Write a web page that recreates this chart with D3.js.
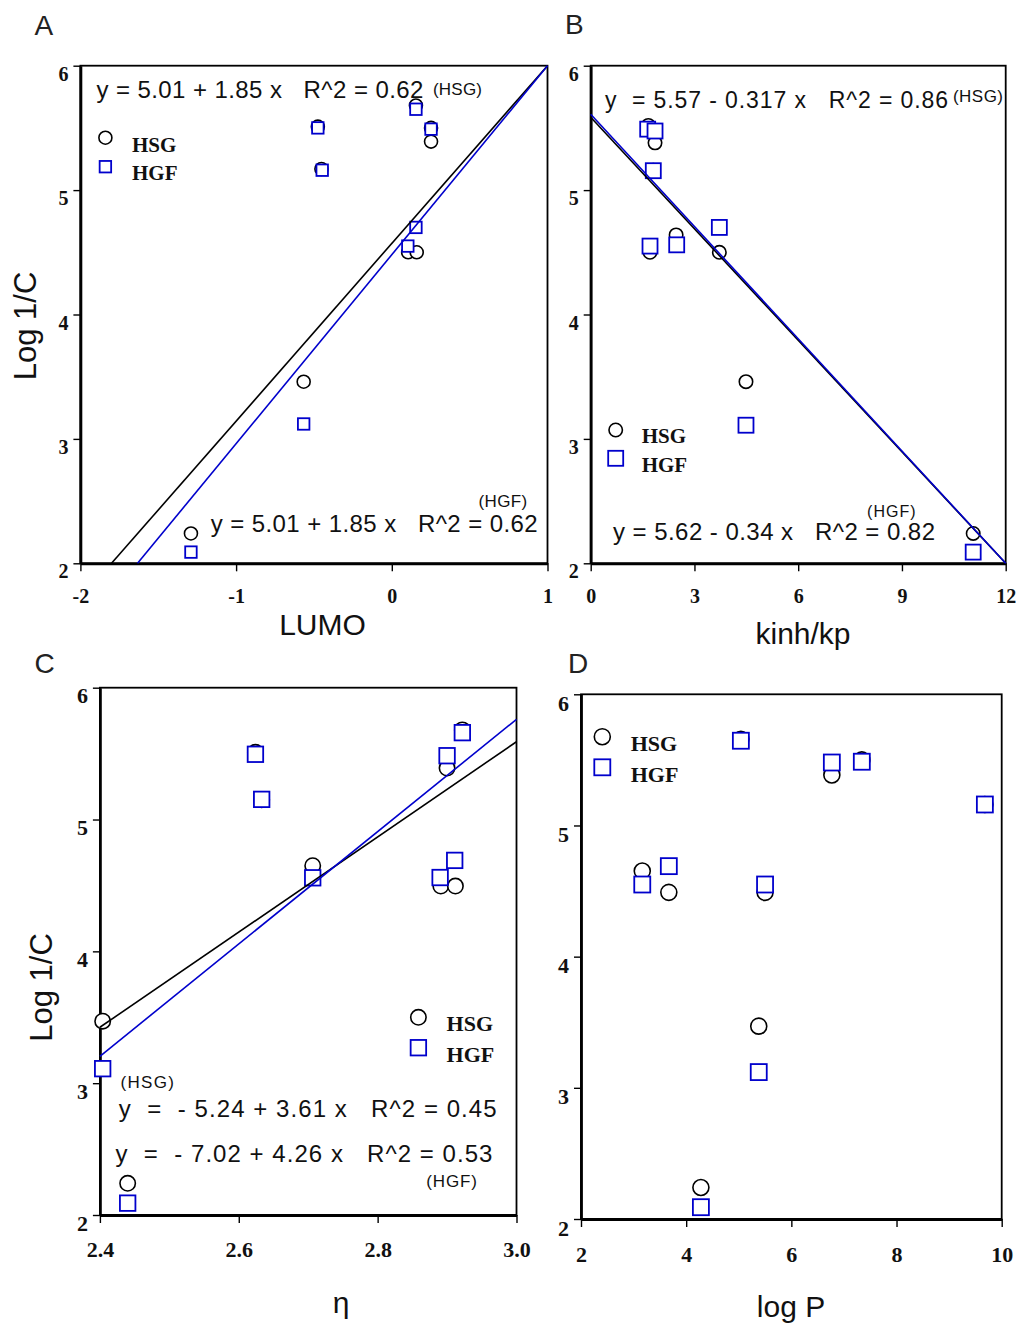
<!DOCTYPE html>
<html><head><meta charset="utf-8">
<script src="https://cdn.jsdelivr.net/npm/d3@7"></script>
<style>body{margin:0;background:#fff} svg{display:block}</style>
</head><body>
<svg id="c" width="1016" height="1325"></svg>
<script>
// ---------- DATA ----------
const yTicks = [2, 3, 4, 5, 6];
const yTickLabels = ["2", "3", "4", "5", "6"];

// Panel A : LUMO
const xTicksA = [-2, -1, 0, 1];
const xTickLabelsA = ["-2", "-1", "0", "1"];
const A_hsg_x = [-0.475, -0.452, 0.155, 0.252, 0.252, 0.105, 0.160, -0.566, -1.29];
const A_hsg_y = [5.51, 5.17, 5.68, 5.50, 5.39, 4.50, 4.50, 3.46, 2.24];
const A_hgf_x = [-0.475, -0.447, 0.155, 0.252, 0.155, 0.103, -0.566, -1.29];
const A_hgf_y = [5.50, 5.16, 5.65, 5.49, 4.70, 4.55, 3.12, 2.09];
const A_hsg_line = [[-1.80, 2], [1, 6]];
const A_hgf_line = [[-1.633, 2], [1, 6]];

// Panel B : kinh/kp
const xTicksB = [0, 3, 6, 9, 12];
const xTickLabelsB = ["0", "3", "6", "9", "12"];
const B_hsg_x = [1.667, 1.86, 1.81, 1.715, 2.47, 3.72, 4.49, 11.06];
const B_hsg_y = [5.52, 5.38, 5.16, 4.50, 4.64, 4.50, 3.46, 2.24];
const B_hgf_x = [1.648, 1.86, 1.81, 1.715, 2.487, 3.72, 4.49, 11.06];
const B_hgf_y = [5.49, 5.475, 5.156, 4.55, 4.56, 4.70, 3.11, 2.09];
const B_hsg_line = [[0, 5.585], [12, 2]];
const B_hgf_line = [[0, 5.61], [12, 2]];

// Panel C : eta
const xTicksC = [2.4, 2.6, 2.8, 3.0];
const xTickLabelsC = ["2.4", "2.6", "2.8", "3.0"];
const C_hsg_x = [2.624, 2.633, 2.7065, 2.90, 2.922, 2.891, 2.912, 2.404, 2.44];
const C_hsg_y = [5.51, 5.15, 4.65, 5.39, 5.68, 4.495, 4.495, 3.47, 2.24];
const C_hgf_x = [2.624, 2.633, 2.7065, 2.90, 2.922, 2.89, 2.911, 2.404, 2.44];
const C_hgf_y = [5.495, 5.153, 4.558, 5.484, 5.659, 4.56, 4.69, 3.11, 2.09];
const C_hsg_fit = [-5.24, 3.61];   // intercept, slope
const C_hgf_fit = [-7.02, 4.26];
const C_fit_range = [2.4, 3.0];

// Panel D : log P
const xTicksD = [2, 4, 6, 8, 10];
const xTickLabelsD = ["2", "4", "6", "8", "10"];
const D_x = [3.165, 3.67, 5.04, 5.50, 6.77, 7.34, 9.68, 5.38, 4.28];
const D_hsg_y = [4.653, 4.49, 5.657, 4.49, 5.385, 5.50, 5.16, 3.47, 2.24];
const D_hgf_y = [4.55, 4.69, 5.646, 4.55, 5.48, 5.486, 5.16, 3.12, 2.09];

// ---------- DRAWING ----------
const svg = d3.select("#c");
const SANS = "'Liberation Sans', Arial, sans-serif";
const SERIF = "'Liberation Serif', 'Times New Roman', serif";
const BLUE = "#0000cc";

function txt(x, y, s, size, opts = {}) {
  const t = svg.append("text").attr("x", x).attr("y", y).text(s)
    .attr("font-family", opts.family || SANS).attr("font-size", size)
    .attr("fill", opts.fill || "#111").style("white-space", "pre");
  if (opts.weight) t.attr("font-weight", opts.weight);
  if (opts.anchor) t.attr("text-anchor", opts.anchor);
  if (opts.len) t.attr("textLength", opts.len).attr("lengthAdjust", "spacing");
  if (opts.rotate) t.attr("transform", `rotate(-90,${x},${y})`);
  return t;
}

function panel(cfg) {
  const x = d3.scaleLinear().domain(cfg.xDomain).range([cfg.left, cfg.right]);
  const y = d3.scaleLinear().domain([2, 6]).range([cfg.bottom, cfg.top]);
  const g = svg.append("g");

  g.append("rect").attr("x", cfg.left).attr("y", cfg.top)
    .attr("width", cfg.right - cfg.left).attr("height", cfg.bottom - cfg.top)
    .attr("fill", "none").attr("stroke", "#000").attr("stroke-width", 1.8);

  const ya = d3.axisLeft(y).tickValues(yTicks).tickSize(7).tickSizeOuter(0)
    .tickFormat((d, i) => yTickLabels[i]);
  const yg = g.append("g").attr("transform", `translate(${cfg.left},0)`).call(ya);
  yg.select(".domain").attr("stroke-width", 2.8);
  yg.selectAll(".tick line").attr("stroke-width", 1.4);
  yg.selectAll(".tick text").attr("font-family", SERIF).attr("font-weight", "bold")
    .attr("font-size", cfg.tickFont).attr("fill", "#111")
    .attr("dy", null).attr("y", cfg.yLabDy).attr("x", -12);

  const xa = d3.axisBottom(x).tickValues(cfg.xTicks).tickSize(8).tickSizeOuter(0)
    .tickFormat((d, i) => cfg.xLabels[i]);
  const xg = g.append("g").attr("transform", `translate(0,${cfg.bottom})`).call(xa);
  xg.select(".domain").attr("stroke-width", 2.8);
  xg.selectAll(".tick line").attr("stroke-width", 1.4);
  xg.selectAll(".tick text").attr("font-family", SERIF).attr("font-weight", "bold")
    .attr("font-size", cfg.tickFont).attr("fill", "#111")
    .attr("dy", null).attr("y", cfg.xLabDy);
  g.selectAll(".domain").attr("stroke", "#000");

  // markers: circles (HSG) then squares (HGF)
  const r = cfg.r, s = cfg.sq;
  g.selectAll("circle.hsg").data(d3.range(cfg.hsgX.length)).join("circle")
    .attr("cx", i => x(cfg.hsgX[i])).attr("cy", i => y(cfg.hsgY[i])).attr("r", r)
    .attr("fill", "#fff").attr("stroke", "#000").attr("stroke-width", 1.6);
  g.selectAll("rect.hgf").data(d3.range(cfg.hgfX.length)).join("rect")
    .attr("x", i => x(cfg.hgfX[i]) - s / 2).attr("y", i => y(cfg.hgfY[i]) - s / 2)
    .attr("width", s).attr("height", s)
    .attr("fill", "#fff").attr("stroke", BLUE).attr("stroke-width", 1.8);

  // regression lines
  const line = d3.line().x(d => x(d[0])).y(d => y(d[1]));
  if (cfg.hsgLine) g.append("path").attr("d", line(cfg.hsgLine)).attr("fill", "none")
    .attr("stroke", "#000").attr("stroke-width", 1.6);
  if (cfg.hgfLine) g.append("path").attr("d", line(cfg.hgfLine)).attr("fill", "none")
    .attr("stroke", BLUE).attr("stroke-width", 1.6);

  // legend
  const L = cfg.legend;
  g.append("circle").attr("cx", L.x).attr("cy", L.cy1).attr("r", r)
    .attr("fill", "#fff").attr("stroke", "#000").attr("stroke-width", 1.6);
  g.append("rect").attr("x", L.x - s / 2).attr("y", L.cy2 - s / 2).attr("width", s).attr("height", s)
    .attr("fill", "#fff").attr("stroke", BLUE).attr("stroke-width", 1.8);
  txt(L.tx, L.b1, "HSG", L.font, { family: SERIF, weight: "bold" });
  txt(L.tx, L.b2, "HGF", L.font, { family: SERIF, weight: "bold" });
}

const fitPts = (f) => C_fit_range.map(v => [v, f[0] + f[1] * v]);

panel({ xDomain: [-2, 1], left: 80.4, right: 547.5, top: 65.7, bottom: 563.3,
  xTicks: xTicksA, xLabels: xTickLabelsA, tickFont: 20, yLabDy: 14.5, xLabDy: 40,
  hsgX: A_hsg_x, hsgY: A_hsg_y, hgfX: A_hgf_x, hgfY: A_hgf_y, r: 6.5, sq: 11.5,
  hsgLine: A_hsg_line, hgfLine: A_hgf_line,
  legend: { x: 105.4, cy1: 137.7, cy2: 166.7, tx: 132, b1: 151.7, b2: 180, font: 21 } });

panel({ xDomain: [0, 12], left: 590.7, right: 1005.7, top: 65.7, bottom: 563.3,
  xTicks: xTicksB, xLabels: xTickLabelsB, tickFont: 20, yLabDy: 14.5, xLabDy: 40,
  hsgX: B_hsg_x, hsgY: B_hsg_y, hgfX: B_hgf_x, hgfY: B_hgf_y, r: 6.7, sq: 15,
  hsgLine: B_hsg_line, hgfLine: B_hgf_line,
  legend: { x: 615.7, cy1: 430, cy2: 458.3, tx: 641.7, b1: 442.7, b2: 471.7, font: 21 } });

panel({ xDomain: [2.4, 3.0], left: 99.9, right: 516.5, top: 687.7, bottom: 1215,
  xTicks: xTicksC, xLabels: xTickLabelsC, tickFont: 22, yLabDy: 15, xLabDy: 42,
  hsgX: C_hsg_x, hsgY: C_hsg_y, hgfX: C_hgf_x, hgfY: C_hgf_y, r: 7.7, sq: 15.5,
  hsgLine: fitPts(C_hsg_fit), hgfLine: fitPts(C_hgf_fit),
  legend: { x: 418.4, cy1: 1017.3, cy2: 1047.7, tx: 446.6, b1: 1030.7, b2: 1061.7, font: 22 } });

panel({ xDomain: [2, 10], left: 581, right: 1001.7, top: 694.3, bottom: 1219,
  xTicks: xTicksD, xLabels: xTickLabelsD, tickFont: 22, yLabDy: 16, xLabDy: 43,
  hsgX: D_x, hsgY: D_hsg_y, hgfX: D_x, hgfY: D_hgf_y, r: 8, sq: 16,
  legend: { x: 602.3, cy1: 736.7, cy2: 767.3, tx: 630.7, b1: 750.7, b2: 781.7, font: 22 } });

// panel letters
txt(34.6, 35, "A", 28, { fill: "#222" });
txt(565, 33.5, "B", 28, { fill: "#222" });
txt(34.4, 673, "C", 28, { fill: "#222" });
txt(568, 673, "D", 28, { fill: "#222" });

// axis titles
txt(322.5, 635, "LUMO", 30, { anchor: "middle" });
txt(803, 644, "kinh/kp", 30, { anchor: "middle" });
txt(341, 1313, "η", 30, { anchor: "middle" });
txt(791, 1317, "log P", 30, { anchor: "middle" });
txt(36, 326, "Log 1/C", 31, { anchor: "middle", rotate: true });
txt(52, 987.5, "Log 1/C", 31, { anchor: "middle", rotate: true });

// equations
txt(96.4, 98, "y = 5.01 + 1.85 x   R^2 = 0.62", 24, { len: 327 });
txt(433, 95, "(HSG)", 17, { len: 49 });
txt(478.6, 506.7, "(HGF)", 17, { len: 48.5 });
txt(210.7, 531.7, "y = 5.01 + 1.85 x   R^2 = 0.62", 24, { len: 327 });

txt(605, 108.3, "y  = 5.57 - 0.317 x   R^2 = 0.86", 23, { len: 343 });
txt(953, 101.7, "(HSG)", 17, { len: 50 });
txt(867, 516.7, "(HGF)", 16, { len: 48.7 });
txt(613, 540, "y = 5.62 - 0.34 x   R^2 = 0.82", 24, { len: 322 });

txt(120.5, 1088.3, "(HSG)", 17, { len: 53.5 });
txt(118.8, 1116.7, "y  =  - 5.24 + 3.61 x   R^2 = 0.45", 24, { len: 377.8 });
txt(115.4, 1161.7, "y  =  - 7.02 + 4.26 x   R^2 = 0.53", 24, { len: 377 });
txt(426.3, 1186.7, "(HGF)", 17, { len: 50.7 });
</script>
</body></html>
